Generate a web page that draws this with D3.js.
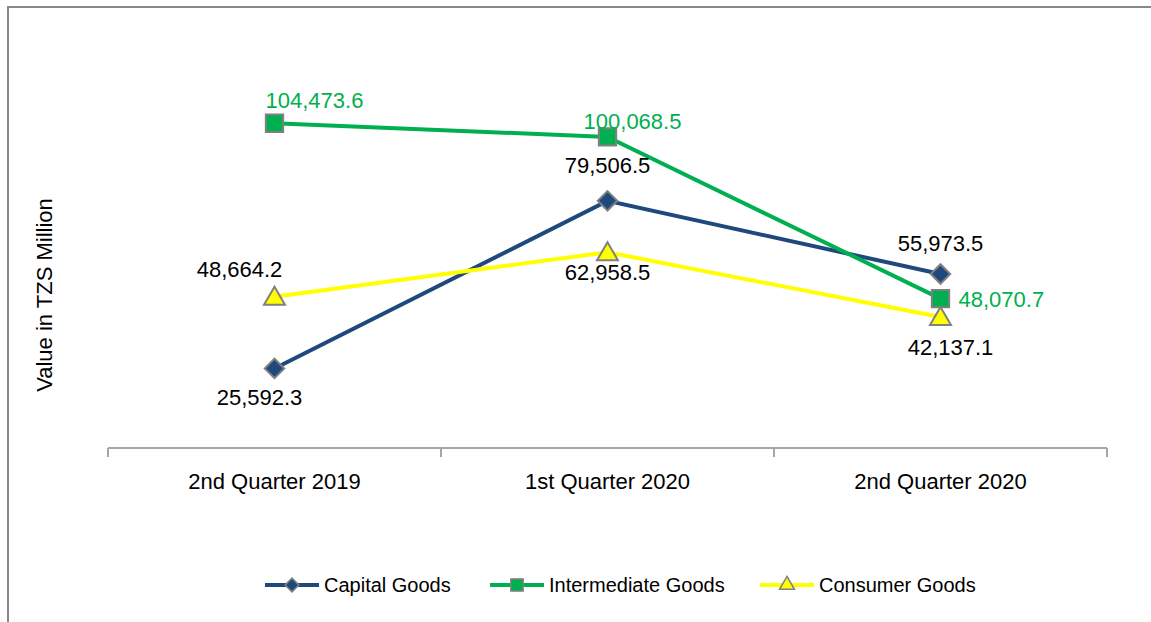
<!DOCTYPE html>
<html>
<head>
<meta charset="utf-8">
<script src="https://d3js.org/d3.v7.min.js"></script>
<style>
  body { margin: 0; background: #fff; }
  svg text { font-family: "Liberation Sans", Arial, sans-serif; fill: #000; }
</style>
</head>
<body>
<svg width="1151" height="622"></svg>
<script>
// chart data
var categories = ["2nd Quarter 2019", "1st Quarter 2020", "2nd Quarter 2020"];
var capitalGoods = [25592.3, 79506.5, 55973.5];
var intermediateGoods = [104473.6, 100068.5, 48070.7];
var consumerGoods = [48664.2, 62958.5, 42137.1];
var seriesNames = ["Capital Goods", "Intermediate Goods", "Consumer Goods"];

var svg = d3.select("svg");

// frame lines (top and left only, like the source image)
svg.append("line").attr("x1", 7).attr("x2", 1151).attr("y1", 7).attr("y2", 7)
  .attr("stroke", "#888").attr("stroke-width", 2);
svg.append("line").attr("x1", 8).attr("x2", 8).attr("y1", 6).attr("y2", 622)
  .attr("stroke", "#888").attr("stroke-width", 2);

var x = d3.scaleBand().domain(categories).range([108, 1107]);
var y = d3.scaleLinear().domain([0, 120000]).range([448, 75]);
var cx = function(c) { return x(c) + x.bandwidth() / 2; };

// x axis: line with ticks at band edges
var axis = svg.append("g").attr("transform", "translate(0,448)");
axis.append("line").attr("x1", 108).attr("x2", 1107)
  .attr("stroke", "#a6a6a6").attr("stroke-width", 2);
axis.selectAll(".tick").data(categories.concat([null])).enter().append("line")
  .attr("x1", function(d, i) { return 108 + i * x.bandwidth(); })
  .attr("x2", function(d, i) { return 108 + i * x.bandwidth(); })
  .attr("y1", 0).attr("y2", 9)
  .attr("stroke", "#a6a6a6").attr("stroke-width", 2);
axis.selectAll(".lbl").data(categories).enter().append("text")
  .attr("x", cx).attr("y", 41)
  .attr("text-anchor", "middle")
  .style("font-size", "22px")
  .text(function(d) { return d; });

// y axis title
svg.append("text")
  .attr("transform", "translate(52,295) rotate(-90)")
  .attr("text-anchor", "middle")
  .style("font-size", "22px")
  .text("Value in TZS Million");

var series = [
  { name: seriesNames[0], values: capitalGoods, color: "#1F497D", marker: d3.symbolSquare, rot: 45, size: 190, labelColor: "#000" },
  { name: seriesNames[1], values: intermediateGoods, color: "#00B050", marker: d3.symbolSquare, rot: 0, size: 300, labelColor: "#00B050" },
  { name: seriesNames[2], values: consumerGoods, color: "#FFFF00", marker: d3.symbolTriangle, rot: 0, size: 190, labelColor: "#000" }
];

// label placement per point: [dx, dy, anchor]
var labelPlace = [
  [[-15, 37, "middle"], [0, -28, "middle"], [0, -23, "middle"]],
  [[-9, -15, "start"], [25, -8, "middle"], [18, 8, "start"]],
  [[-35, -20, "middle"], [0, 28, "middle"], [10, 38, "middle"]]
];

var line = d3.line()
  .x(function(d, i) { return cx(categories[i]); })
  .y(function(d) { return y(d); });

series.forEach(function(s) {
  svg.append("path")
    .attr("d", line(s.values))
    .attr("fill", "none")
    .attr("stroke", s.color)
    .attr("stroke-width", 4);
});

series.forEach(function(s, si) {
  svg.selectAll(".m" + si).data(s.values).enter().append("path")
    .attr("d", d3.symbol().type(s.marker).size(s.size))
    .attr("transform", function(d, i) {
      var dy = s.marker === d3.symbolTriangle ? 2 : 0;
      return "translate(" + cx(categories[i]) + "," + (y(d) + dy) + ") rotate(" + s.rot + ")";
    })
    .attr("fill", s.color)
    .attr("stroke", "#808080")
    .attr("stroke-width", 2);

  svg.selectAll(".l" + si).data(s.values).enter().append("text")
    .attr("x", function(d, i) { return cx(categories[i]) + labelPlace[si][i][0]; })
    .attr("y", function(d, i) { return y(d) + labelPlace[si][i][1]; })
    .attr("text-anchor", function(d, i) { return labelPlace[si][i][2]; })
    .style("font-size", "22px")
    .style("fill", s.labelColor)
    .text(function(d) { return d3.format(",.1f")(d); });
});

// legend
var legendX = [265, 490, 760];
var legend = svg.selectAll(".legend").data(series).enter().append("g")
  .attr("transform", function(d, i) { return "translate(" + legendX[i] + ",585)"; });
legend.append("line").attr("x1", 0).attr("x2", 54)
  .attr("stroke", function(d) { return d.color; })
  .attr("stroke-width", 4);
legend.append("path")
  .attr("d", function(d) { return d3.symbol().type(d.marker).size(d.size * 0.5)(); })
  .attr("transform", function(d) { return "translate(27,0) rotate(" + d.rot + ")"; })
  .attr("fill", function(d) { return d.color; })
  .attr("stroke", "#808080")
  .attr("stroke-width", 1.5);
legend.append("text")
  .attr("x", 59).attr("y", 7)
  .style("font-size", "20px")
  .text(function(d) { return d.name; });
</script>
</body>
</html>
